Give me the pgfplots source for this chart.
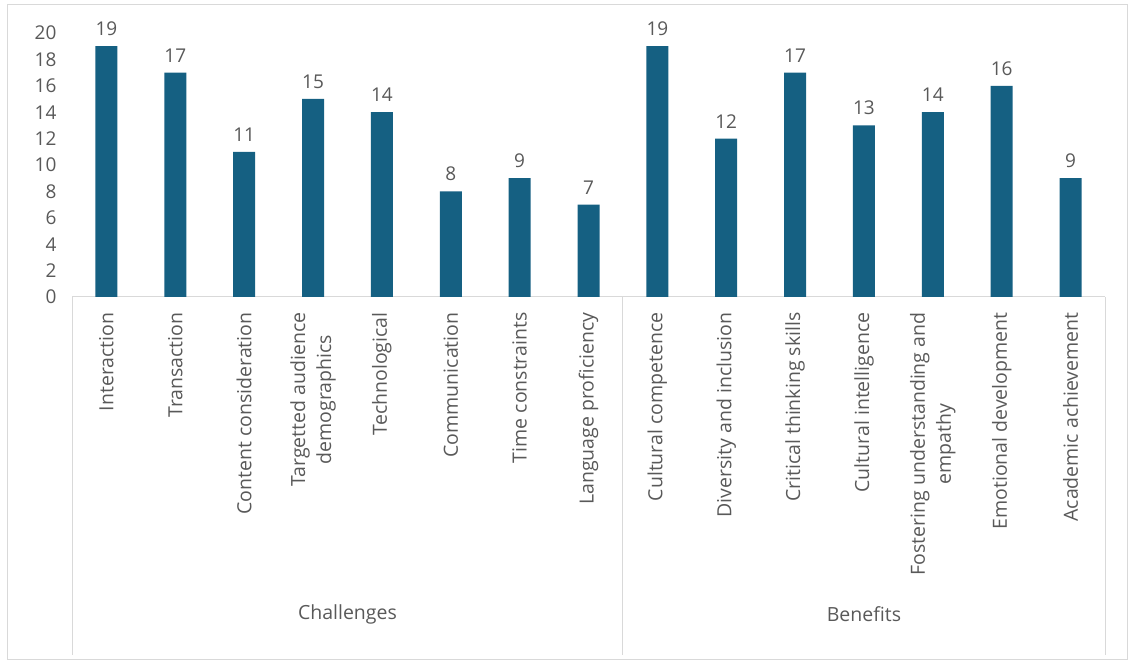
\documentclass[border=0pt]{standalone}
\usepackage{pgfplots}
\pgfplotsset{compat=1.18}
\usepackage{fontspec}
\setmainfont{Open Sans}
\definecolor{barc}{HTML}{156082}
\definecolor{txt}{HTML}{595959}
\definecolor{lnc}{HTML}{D9D9D9}
\begin{document}
\begin{tikzpicture}
\path[use as bounding box] (0,0) rectangle (1133pt,666pt);
\draw[lnc, line width=1pt] (7pt,6pt) rectangle (1127pt,661pt);
\begin{axis}[
  at={(72pt,369pt)}, anchor=south west,
  scale only axis, width=1033pt, height=264pt,
  xmin=-0.5, xmax=14.5, ymin=0, ymax=20,
  ybar, bar width=22pt, clip=false,
  separate axis lines,
  axis x line*=bottom, axis y line*=left,
  x axis line style={lnc, line width=1pt, -},
  y axis line style={draw=none},
  major tick length=0pt,
  /pgf/number format/assume math mode=true,
  ytick={0,2,...,20},
  yticklabel style={txt, font=\fontsize{19}{19}\selectfont, anchor=east, xshift=-12pt},
  xtick={0,...,14},
  xticklabels={Interaction, Transaction, Content consideration, {Targetted audience\\demographics}, Technological, Communication, Time constraints, Language proficiency, Cultural competence, Diversity and inclusion, Critical thinking skills, Cultural intelligence, {Fostering understanding and\\empathy}, Emotional development, Academic achievement},
  xticklabel style={txt, font=\fontsize{19.5}{26}\selectfont, rotate=90, anchor=east, align=center, xshift=-12pt},
  nodes near coords,
  nodes near coords style={txt, font=\fontsize{19}{19}\selectfont, yshift=7pt},
]
\addplot[fill=barc, draw=none] coordinates {
(0,19) (1,17) (2,11) (3,15) (4,14) (5,8) (6,9) (7,7)
(8,19) (9,12) (10,17) (11,13) (12,14) (13,16) (14,9)};
\draw[lnc, line width=1pt] (axis cs:-0.5,0) -- ++(0pt,-358pt);
\draw[lnc, line width=1pt] (axis cs:7.5,0) -- ++(0pt,-358pt);
\draw[lnc, line width=1pt] (axis cs:14.5,0) -- ++(0pt,-358pt);
\node[txt, font=\fontsize{19.5}{19.5}\selectfont] at ([yshift=-317pt]axis cs:3.5,0) {Challenges};
\node[txt, font=\fontsize{19.5}{19.5}\selectfont] at ([yshift=-317pt]axis cs:11,0) {Benefits};
\end{axis}
\end{tikzpicture}
\end{document}
